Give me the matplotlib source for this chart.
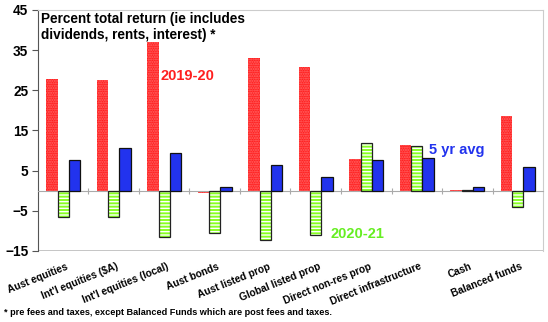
import numpy as np
import matplotlib
matplotlib.use('Agg')
import matplotlib.pyplot as plt

plt.rcParams['font.family'] = ['Liberation Sans', 'DejaVu Sans']
plt.rcParams['font.weight'] = 'bold'

# asset classes and returns (%)
categories = ['Aust equities', "Int'l equities ($A)", "Int'l equities (local)", 'Aust bonds',
              'Aust listed prop', 'Global listed prop', 'Direct non-res prop',
              'Direct infrastructure', 'Cash', 'Balanced funds']
fy2020 = [27.8, 27.5, 37.0, -0.6, 33.1, 30.7, 8.0, 11.4, 0.2, 18.5]
fy2021 = [-6.6, -6.6, -11.4, -10.5, -12.3, -11.0, 12.0, 11.1, 0.1, -4.1]
avg5 = [7.6, 10.7, 9.3, 1.0, 6.4, 3.4, 7.6, 8.2, 1.0, 5.9]
yticks = [-15, -5, 5, 15, 25, 35, 45]

red = '#ff1f1f'
green = '#88ff22'
blue = '#2233ee'

fig = plt.figure(figsize=(5.48, 3.22), dpi=100)
ax = fig.add_axes([0.0693, 0.2205, 0.9216, 0.7485])

x = np.arange(len(categories))
w = 0.226

# red bars, fine dotted texture
ax.bar(x - w, fy2020, w, color=red, edgecolor='#ff6a6a', hatch='.......', lw=0, zorder=2)
# green bars with white stripes, black outline drawn separately
ax.bar(x, fy2021, w, color=green, edgecolor='white', hatch='-----', lw=0, zorder=2)
ax.bar(x, fy2021, w, fill=False, edgecolor='#222222', lw=0.9, zorder=3)
ax.bar(x + w, avg5, w, color=blue, edgecolor='#111111', lw=0.9, zorder=3)

ax.set_xlim(-0.5, len(categories) - 0.5)
ax.set_ylim(-15, 45)
ax.set_yticks(yticks)
ax.tick_params(axis='y', labelsize=9.8, length=4, color='#555555', pad=3)
for t in ax.get_yticklabels():
    t.set_fontweight('bold')

# zero line with separator ticks between groups
ax.spines['bottom'].set_position(('data', 0))
ax.spines['bottom'].set_color('#aaaaaa')
ax.set_xticks(x[:-1] + 0.5)
ax.set_xticklabels([])
ax.tick_params(axis='x', direction='inout', length=4, color='#aaaaaa')
ax.axhline(-15, color='#bbbbbb', lw=1.2, zorder=1)
ax.spines['top'].set_color('#cccccc')
ax.spines['right'].set_color('#cccccc')
ax.spines['left'].set_color('#555555')

for i, c in enumerate(categories):
    ax.text(i + 0.05, -17.6, c, rotation=22, ha='right', va='top', rotation_mode='anchor',
            fontsize=7.3, fontweight='bold')

ax.text(0.005, 0.99, 'Percent total return (ie includes\ndividends, rents, interest) *',
        transform=ax.transAxes, ha='left', va='top', fontsize=9.8, fontweight='bold',
        linespacing=1.15)
ax.text(1.93, 28.5, '2019-20', color=red, fontsize=10.5, fontweight='bold', va='center')
ax.text(5.3, -10.7, '2020-21', color='#66ee22', fontsize=10.5, fontweight='bold', va='center')
ax.text(7.24, 10.1, '5 yr avg', color=blue, fontsize=10.5, fontweight='bold', va='center')

fig.text(0.008, 0.028, '* pre fees and taxes, except Balanced Funds which are post fees and taxes.',
         fontsize=6.6, fontweight='bold', va='center')

fig.savefig('out.png', dpi=100)
